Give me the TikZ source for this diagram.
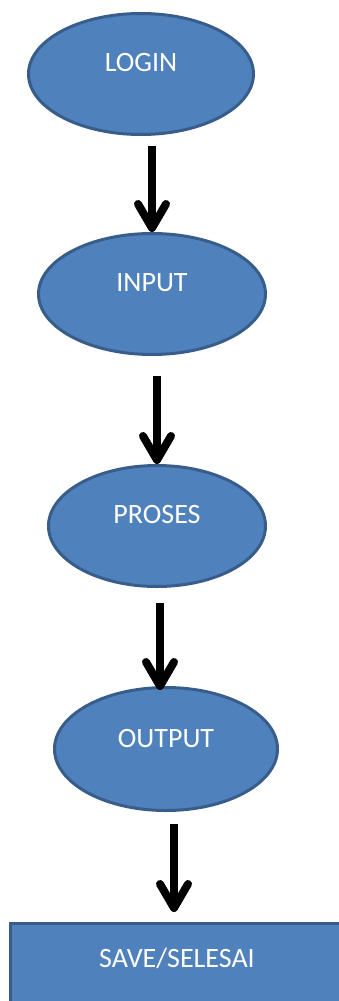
\documentclass[tikz,border=0pt]{standalone}
\usepackage{fontspec}
\setmainfont{Carlito}
\usetikzlibrary{positioning,shapes.geometric,arrows.meta}
\definecolor{boxfill}{HTML}{4F81BD}
\definecolor{boxline}{HTML}{385D8A}
\tikzset{oval/.style={
        draw=boxline, 
        fill=boxfill, 
        ellipse, 
        line width=3pt,  
        inner sep=0pt } }
\tikzset{endbox/.style={
    draw=boxline, 
    fill=boxfill, 
    rectangle, 
    line width=3pt,  
    inner sep=0pt } }
\tikzset{txt/.style={ text=white, font=\fontsize{28}{34}\selectfont } }
\tikzset{flow/.style={ line width=8pt, -{Straight Barb[length=24pt,width=28pt,round]} } }

\begin{document}
\begin{tikzpicture}[x=1pt,y=1pt]

\clip (0,0) rectangle (339,-1001);

\node[oval, minimum width=225pt, minimum height=121pt] (login) at (141,-74)
[label={[txt,yshift=11pt]center:LOGIN}] {};
\node[oval, minimum width=227pt, minimum height=121pt] (input)
[below = 96pt of login, xshift=11pt, label={[txt,yshift=11pt]center:INPUT}] {};
\node[oval, minimum width=217pt, minimum height=121pt] (proses)
[below = 108pt of input, xshift=5pt, label={[txt,yshift=11pt]center:PROSES}] {};
\node[oval, minimum width=223pt, minimum height=123pt] (output)
[below = 98pt of proses, xshift=9pt, label={[txt,yshift=10pt]center:OUTPUT}] {};
\node[endbox, minimum width=370pt, minimum height=98pt] (save)
[below = 110pt of output, xshift=29pt, label={[txt,yshift=14pt,xshift=-18pt]center:SAVE/SELESAI}] {};

%%ARROWS between steps
\draw[flow, shorten <=10pt] (login.south -| input.north) -- (input.north);
\draw[flow, shorten <=20pt] (input.south -| proses.north) -- (proses.north);
\draw[flow, shorten <=15pt, shorten >=-4pt] ([xshift=-6pt]proses.south -| output.north) -- ([xshift=-6pt]output.north);
\draw[flow, shorten <=12pt, shorten >=10pt] ([xshift=-21pt]output.south -| save.north) -- ([xshift=-21pt]save.north);

\end{tikzpicture}
\end{document}
